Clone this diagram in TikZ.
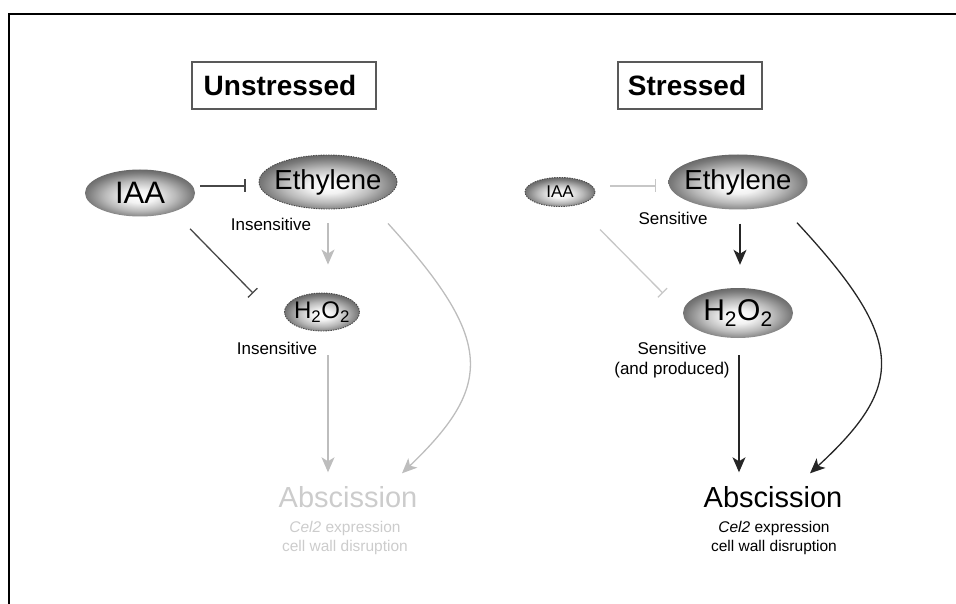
\documentclass[tikz,border=0pt]{standalone}
\usepackage{fontspec}
\setmainfont{Liberation Sans}
\usepackage{tikz}
\usetikzlibrary{positioning}
\usetikzlibrary{arrows.meta, shapes.geometric}
\newcommand{\molname}[1]{\makebox[0pt]{#1}}
\pgfdeclareradialshading{molshade}{\pgfpoint{0bp}{-4bp}}{color(0bp)=(white); color(7bp)=(black!5); color(16bp)=(black!27); color(24bp)=(black!52); color(31bp)=(black!68); color(60bp)=(black!68)}

\begin{document}
\begin{tikzpicture}[x=1pt, y=-1pt,
  mol/.style = {ellipse, shade, shading=molshade, inner sep=0pt},
  dotrim/.style = {draw=black!70, line width=0.9pt, dash pattern=on 1.4pt off 1.1pt},
  titlebox/.style = {draw=black!65, line width=1.4pt, minimum height=47pt, inner sep=0pt, font=\fontsize{28}{30}\selectfont\bfseries},
  note/.style = {inner sep=0pt, align=center, font=\fontsize{17}{20}\selectfont},
  endpt/.style = {inner sep=0pt, text height=21pt, text depth=0pt, font=\fontsize{29}{32}\selectfont},
  sub/.style = {inner sep=0pt, align=center, font=\fontsize{15.5}{19}\selectfont},
  act/.style = {-{Stealth[length=15pt, width=13pt, inset=4pt]}, line width=1.3pt},
  inh/.style = {-{Bar[width=13pt]}, line width=1.3pt}]
\useasboundingbox (0,0) rectangle (956,604);
\draw[line width=1.8pt] (9,604) -- (9,14) -- (956,14);

% unstressed
\node[titlebox, minimum width=184pt] (hdU) at (284,85.5) {\hspace*{-8pt}Unstressed};
\node[mol, minimum width=110pt, minimum height=47pt, font=\fontsize{31}{31}\selectfont] (iaaU) at (140,193) {\molname{IAA}};
\node[mol, dotrim, minimum width=138pt, minimum height=54pt, font=\fontsize{27.5}{27}\selectfont] (ethU) at (328,182) {\molname{Ethylene}};
\node[mol, dotrim, minimum width=75pt, minimum height=38pt, font=\fontsize{24}{24}\selectfont] (hU) at (322,312) {\molname{H\textsubscript{2}O\textsubscript{2}}};
\node[note] (insU1) at (271,224) {Insensitive};
\node[note] (insU2) at (277,348) {Insensitive};
\node[endpt, text=black!20] (absU) at (348,497) {Abscission};
\node[sub, text=black!20] (celU) at (345,537.5) {\textit{Cel2} expression\\cell wall disruption};

\path ([xshift=5pt,yshift=7pt]iaaU.east) edge[inh, draw=black!72] ([xshift=-13pt,yshift=-4pt]ethU.west);
\path ([xshift=11pt,yshift=-19pt]iaaU.south east) edge[inh, draw=black!72] ([xshift=-42pt,yshift=5pt]hU.north west);
\path ([yshift=-14pt]ethU.south) edge[act, draw=black!26] ([xshift=6pt,yshift=28pt]hU.north);
\path ([xshift=6pt,yshift=-24pt]hU.south) edge[act, draw=black!26] ([xshift=-20pt,yshift=14pt]absU.north);
\draw[act, draw=black!26] ([xshift=60pt,yshift=-14pt]ethU.south) .. controls (494,340) and (494,385) .. ([xshift=54pt,yshift=13pt]absU.north);

% stressed
\node[titlebox, minimum width=144pt] (hdS) at (690,85.5) {\hspace*{-6pt}Stressed};
\node[mol, dotrim, minimum width=70pt, minimum height=29pt, font=\fontsize{17}{17}\selectfont] (iaaS) at (560,192) {\molname{IAA}};
\node[mol, minimum width=139pt, minimum height=55pt, font=\fontsize{27.5}{27}\selectfont] (ethS) at (738,182) {\molname{Ethylene}};
\node[mol, minimum width=110pt, minimum height=50pt, font=\fontsize{30}{30}\selectfont] (hS) at (738,313) {\molname{H\textsubscript{2}O\textsubscript{2}}};
\node[note] (senS1) at (673,218) {Sensitive};
\node[note] (senS2) at (672,360) {Sensitive\\(and produced)};
\node[endpt] (absS) at (773,497) {Abscission};
\node[sub] (celS) at (774,537.5) {\textit{Cel2} expression\\cell wall disruption};

\path ([xshift=15pt,yshift=6pt]iaaS.east) edge[inh, draw=black!22] ([xshift=-12pt,yshift=-4pt]ethS.west);
\path ([xshift=15pt,yshift=-27pt]iaaS.south east) edge[inh, draw=black!22] ([xshift=-36pt,yshift=2pt]hS.north west);
\path ([xshift=2pt,yshift=-14pt]ethS.south) edge[act, draw=black!85] ([xshift=2pt,yshift=23pt]hS.north);
\path ([xshift=1pt,yshift=-17pt]hS.south) edge[act, draw=black!85] ([xshift=-34pt,yshift=14pt]absS.north);
\draw[act, draw=black!85] ([xshift=59pt,yshift=-13pt]ethS.south) .. controls (906,340) and (906,385) .. ([xshift=37pt,yshift=13pt]absS.north);
\end{tikzpicture}
\end{document}
